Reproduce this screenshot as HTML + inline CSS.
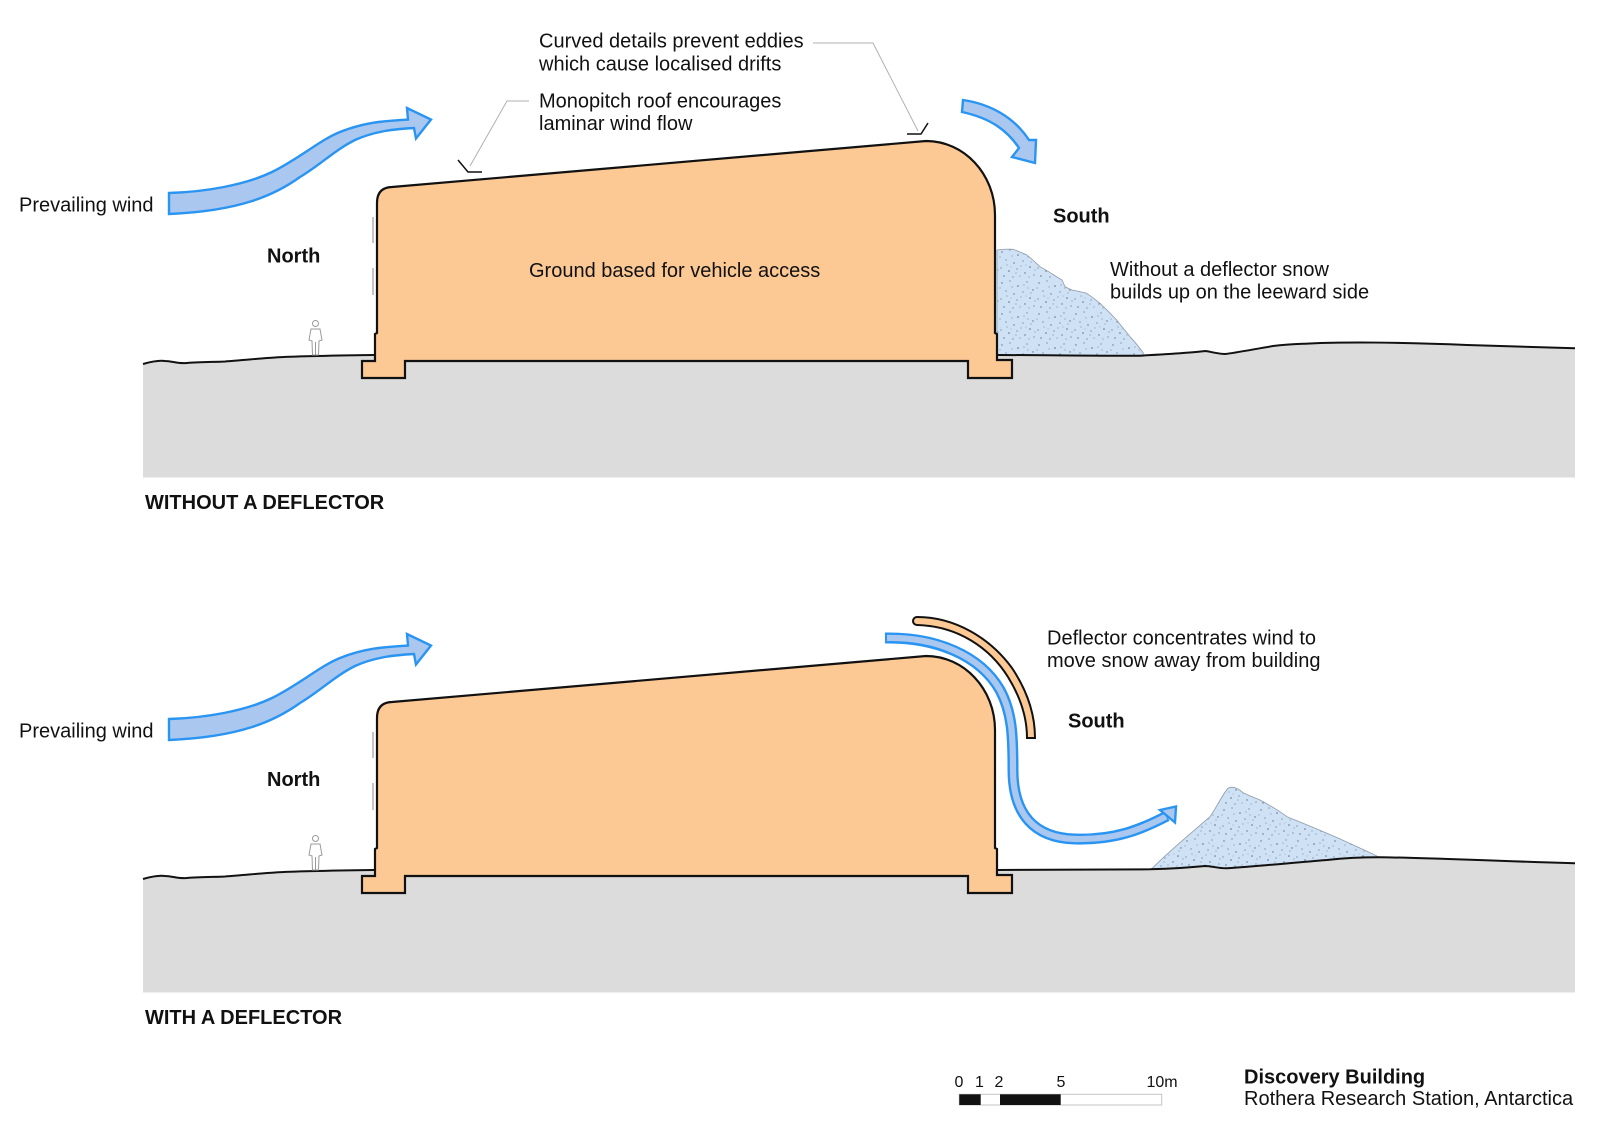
<!DOCTYPE html>
<html>
<head>
<meta charset="utf-8">
<style>
  html, body { margin:0; padding:0; background:#ffffff; }
  svg { display:block; }
  text { font-family:"Liberation Sans", Arial, sans-serif; fill:#111; }
  .t { font-size:20px; }
  .b { font-size:20px; font-weight:bold; }
  .s { font-size:16px; }
</style>
</head>
<body>
<svg width="1600" height="1124" viewBox="0 0 1600 1124" xmlns="http://www.w3.org/2000/svg">
  <defs>
    <pattern id="sp" width="37" height="31" patternUnits="userSpaceOnUse">
      <rect width="37" height="31" fill="#cfe1f4"/>
      <g fill="#5f7187">
        <circle cx="3" cy="4" r="0.7"/><circle cx="11" cy="2" r="0.6"/><circle cx="19" cy="7" r="0.8"/>
        <circle cx="28" cy="3" r="0.6"/><circle cx="34" cy="11" r="0.7"/><circle cx="7" cy="12" r="0.6"/>
        <circle cx="15" cy="15" r="0.7"/><circle cx="24" cy="13" r="0.6"/><circle cx="31" cy="19" r="0.8"/>
        <circle cx="2" cy="20" r="0.6"/><circle cx="10" cy="23" r="0.8"/><circle cx="18" cy="21" r="0.6"/>
        <circle cx="26" cy="25" r="0.7"/><circle cx="35" cy="27" r="0.6"/><circle cx="5" cy="28" r="0.7"/>
        <circle cx="14" cy="29" r="0.6"/><circle cx="21" cy="28" r="0.5"/><circle cx="29" cy="9" r="0.5"/>
        <circle cx="13" cy="8" r="0.5"/><circle cx="22" cy="18" r="0.5"/>
        <circle cx="8" cy="17" r="0.5"/><circle cx="32" cy="14" r="0.5"/><circle cx="25" cy="6" r="0.5"/>
        <circle cx="17" cy="25" r="0.5"/><circle cx="30" cy="29" r="0.5"/><circle cx="1" cy="9" r="0.5"/>
        <circle cx="36" cy="22" r="0.5"/><circle cx="12" cy="19" r="0.4"/><circle cx="27" cy="17" r="0.4"/>
      </g>
    </pattern>
  </defs>

  <!-- ================= PANEL 1 ================= -->
  <path d="M143,364 C150,362 158,360 165,361 C172,361 178,364 187,363 C200,362 215,362 225,361.5 C245,360 265,358 275,357.5 C300,356 340,355.5 377,355 L997,355 C1040,355 1100,356 1140,355.7 C1170,354 1195,352.5 1205,351 C1209,351 1214,353.5 1225,354 C1235,353 1255,349 1273,346 C1290,344 1300,344 1310,343.5 C1340,342 1400,342 1467,345 L1575,348.3 L1575,477.5 L143,477.5 Z" fill="#dcdcdc"/>
  <path d="M997,250 C1003,249 1008,249 1013,249.3 C1018,251 1022,253 1027,255 C1032,259 1036,263 1040,266.7 C1046,270 1051,273 1057,277 L1062,280 L1065,286.7 L1071.7,290 C1077,291 1082,292 1086.7,293.3 C1092,297 1096,300 1100,303.3 C1106,309 1111,314 1116.7,320 C1121,326 1126,331 1130,336.7 C1135,342 1139,347 1143.3,353 L1143,355.5 C1100,356 1040,355 997,355 Z" fill="url(#sp)" stroke="#8d9aa8" stroke-width="0.8"/>
  <path d="M143,364 C150,362 158,360 165,361 C172,361 178,364 187,363 C200,362 215,362 225,361.5 C245,360 265,358 275,357.5 C300,356 340,355.5 377,355 L997,355 C1040,355 1100,356 1140,355.7 C1170,354 1195,352.5 1205,351 C1209,351 1214,353.5 1225,354 C1235,353 1255,349 1273,346 C1290,344 1300,344 1310,343.5 C1340,342 1400,342 1467,345 L1575,348.3" fill="none" stroke="#111" stroke-width="2"/>
  <g id="bld">
    <path d="M377,203 Q377,187.5 392,187 L926,141 C964,141 995,174 995,215 L995,333 L997,334 L997,360 L1012,360 L1012,378 L968,378 L968,361 L405,361 L405,378 L362,378 L362,361 L375,361 L375,334 L377,333 Z" fill="#fcc995" stroke="#111" stroke-width="2.2" stroke-linejoin="miter"/>
    <line x1="373" y1="217" x2="373" y2="243" stroke="#c4c4c4" stroke-width="2"/>
    <line x1="373" y1="268" x2="373" y2="295" stroke="#c4c4c4" stroke-width="2"/>
    <g stroke="#9a9a9a" fill="#fff" stroke-width="1">
      <circle cx="315.5" cy="323.5" r="3"/>
      <path d="M311,329 L320,329 L322,340 L319,341 L318.5,355 L312.5,355 L312,341 L309,340 Z"/>
      <line x1="315.5" y1="342" x2="315.5" y2="355"/>
    </g>
  </g>
  <path d="M529,101 L507,101 L470,166" fill="none" stroke="#b0b0b0" stroke-width="1"/>
  <path d="M458,160 L468,172 L482,172" fill="none" stroke="#111" stroke-width="1.5"/>
  <path d="M813,43 L873,43 L918,131" fill="none" stroke="#b0b0b0" stroke-width="1"/>
  <path d="M907,134 L921,134 L928,123" fill="none" stroke="#111" stroke-width="1.5"/>
  <path id="wa" d="M169,193 C205,192 245,185 272,172 C300,158 320,140 340,132 C365,122 385,121 408,119.5 L407,108 L431,119.5 L416,138.5 L414,128 C395,129 375,131 355,140 C335,150 320,165 300,177 C275,195 240,211 169,214 Z" fill="#a9c7ef" stroke="#2994f2" stroke-width="2.4" stroke-linejoin="miter"/>
  <path d="M963,100 C990,104 1014,117 1029,140 L1036,140 L1035,163 L1012,157 L1019,148 C1007,130 990,118 962,112 Z" fill="#a9c7ef" stroke="#2994f2" stroke-width="2.4"/>

  <text class="t" x="539" y="47.7">Curved details prevent eddies</text>
  <text class="t" x="539" y="70.3">which cause localised drifts</text>
  <text class="t" x="539" y="107.3">Monopitch roof encourages</text>
  <text class="t" x="539" y="130">laminar wind flow</text>
  <text class="t" x="19" y="211.7">Prevailing wind</text>
  <text class="b" x="267" y="262.3">North</text>
  <text class="t" x="529" y="277">Ground based for vehicle access</text>
  <text class="b" x="1053" y="222.3">South</text>
  <text class="t" x="1110" y="276">Without a deflector snow</text>
  <text class="t" x="1110" y="298.5">builds up on the leeward side</text>
  <text class="b" x="145" y="509.2">WITHOUT A DEFLECTOR</text>

  <!-- ================= PANEL 2 ================= -->
  <path d="M143,879 C150,877 158,875 165,876 C172,876 178,879 187,878 C200,877 215,877 225,876.5 C245,875 265,873 275,872.5 C300,871 340,870.5 377,870 L997,870 C1050,870 1100,869.5 1150,869.3 C1175,868.5 1195,867 1205,866 C1212,866 1218,868.5 1227,868.3 C1260,866 1290,863 1327,860 C1345,858 1360,857.3 1380,857.3 C1420,857.5 1467,860 1575,863.3 L1575,992.5 L143,992.5 Z" fill="#dcdcdc"/>
  <path d="M1151.7,868.8 C1170,850 1195,830 1210,816.7 C1218,805 1222,795 1228,788.3 C1231,786.5 1236,786.5 1243,792.7 C1248,795 1255,798 1260,800 C1275,808 1282,813 1287,816.7 C1300,822 1315,828 1327,833.3 C1345,841 1362,849 1378.3,856.7 L1378,857.5 C1360,857.3 1345,858 1327,860 C1290,863 1260,866 1227,868.3 C1218,868.5 1212,866 1205,866 C1190,867.5 1170,868.5 1151.7,868.8 Z" fill="url(#sp)" stroke="#8d9aa8" stroke-width="0.8"/>
  <path d="M143,879 C150,877 158,875 165,876 C172,876 178,879 187,878 C200,877 215,877 225,876.5 C245,875 265,873 275,872.5 C300,871 340,870.5 377,870 L997,870 C1050,870 1100,869.5 1150,869.3 C1175,868.5 1195,867 1205,866 C1212,866 1218,868.5 1227,868.3 C1260,866 1290,863 1327,860 C1345,858 1360,857.3 1380,857.3 C1420,857.5 1467,860 1575,863.3" fill="none" stroke="#111" stroke-width="2"/>
  <use href="#bld" transform="translate(0,515)"/>
  <path d="M917,617 C955,617 990,638 1012,668 C1028,692 1035,715 1035,738 L1027,738 C1027,718 1021,698 1008,677 C990,648 958,626 917,625 A4,4 0 0 1 917,617 Z" fill="#fcc995" stroke="#111" stroke-width="2"/>
  <path d="M885,638 C935,637 980,655 1000,690 C1012,712 1013,735 1013,770 C1013,815 1035,838 1075,839 C1115,840 1140,830 1167,816" fill="none" stroke="#2994f2" stroke-width="11"/>
  <path d="M887,638 C935,637 980,655 1000,690 C1012,712 1013,735 1013,770 C1013,815 1035,838 1075,839 C1115,840 1140,830 1166,816.5" fill="none" stroke="#a9c7ef" stroke-width="6.2"/>
  <path d="M1160,810 L1176,806.5 L1175,822.5 Z" fill="#a9c7ef" stroke="#2994f2" stroke-width="2.4" stroke-linejoin="miter"/>
  <use href="#wa" transform="translate(0,526)"/>

  <text class="t" x="19" y="737.7">Prevailing wind</text>
  <text class="b" x="267" y="786">North</text>
  <text class="t" x="1047" y="644.3">Deflector concentrates wind to</text>
  <text class="t" x="1047" y="667">move snow away from building</text>
  <text class="b" x="1068" y="727.7">South</text>
  <text class="b" x="145" y="1024.2">WITH A DEFLECTOR</text>

  <rect x="959.3" y="1094.3" width="202.4" height="10.7" fill="#fff" stroke="#c4c4c4" stroke-width="1"/>
  <rect x="959.3" y="1094.3" width="21.4" height="10.7" fill="#111"/>
  <rect x="1000" y="1094.3" width="60.7" height="10.7" fill="#111"/>
  <text class="s" x="959" y="1087" text-anchor="middle">0</text>
  <text class="s" x="979.5" y="1087" text-anchor="middle">1</text>
  <text class="s" x="999" y="1087" text-anchor="middle">2</text>
  <text class="s" x="1061" y="1087" text-anchor="middle">5</text>
  <text class="s" x="1162" y="1087" text-anchor="middle">10m</text>

  <text class="b" x="1244" y="1083.3">Discovery Building</text>
  <text class="t" x="1244" y="1105">Rothera Research Station, Antarctica</text>
</svg>
</body>
</html>
